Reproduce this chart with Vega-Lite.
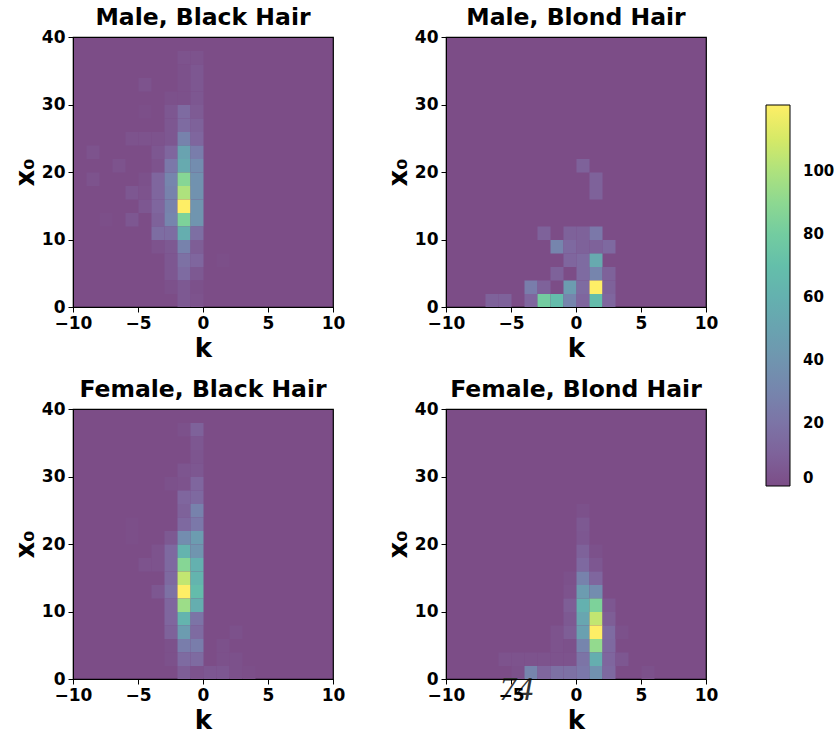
{
  "$schema": "https://vega.github.io/schema/vega-lite/v6.json",
  "background": "white",
  "padding": {"left": 11, "top": 4, "right": 5, "bottom": 5},
  "spacing": 14,
  "config": {
    "font": "DejaVu Sans",
    "view": {"stroke": "black", "strokeWidth": 1.2, "fill": "#7c4d87"},
    "axis": {
      "labelFont": "DejaVu Sans", "labelFontWeight": "bold", "labelFontSize": 17, "labelColor": "black",
      "titleFont": "DejaVu Sans", "titleFontWeight": "bold", "titleFontSize": 26, "titleColor": "black",
      "domainColor": "black", "tickColor": "black", "tickSize": 5, "grid": false, "labelPadding": 3, "labelFlush": false, "labelOverlap": false
    },
    "axisX": {"titlePadding": 4},
    "axisY": {"titlePadding": 3},
    "title": {"font": "DejaVu Sans", "fontSize": 23.5, "fontWeight": "bold", "color": "black", "offset": -1}
  },
  "data": {"values": [
    {"panel":"MBk","k":-1.5,"x0":37,"n":3},{"panel":"MBk","k":-0.5,"x0":37,"n":3},
    {"panel":"MBk","k":-1.5,"x0":35,"n":2},{"panel":"MBk","k":-0.5,"x0":35,"n":5},
    {"panel":"MBk","k":-4.5,"x0":33,"n":3},{"panel":"MBk","k":-1.5,"x0":33,"n":2},{"panel":"MBk","k":-0.5,"x0":33,"n":5},
    {"panel":"MBk","k":-2.5,"x0":31,"n":2},{"panel":"MBk","k":-1.5,"x0":31,"n":2},{"panel":"MBk","k":-0.5,"x0":31,"n":5},
    {"panel":"MBk","k":-4.5,"x0":29,"n":1},{"panel":"MBk","k":-2.5,"x0":29,"n":5},{"panel":"MBk","k":-1.5,"x0":29,"n":15},{"panel":"MBk","k":-0.5,"x0":29,"n":7},
    {"panel":"MBk","k":-2.5,"x0":27,"n":5},{"panel":"MBk","k":-1.5,"x0":27,"n":15},{"panel":"MBk","k":-0.5,"x0":27,"n":10},
    {"panel":"MBk","k":-5.5,"x0":25,"n":3},{"panel":"MBk","k":-4.5,"x0":25,"n":3},{"panel":"MBk","k":-3.5,"x0":25,"n":3},{"panel":"MBk","k":-2.5,"x0":25,"n":5},{"panel":"MBk","k":-1.5,"x0":25,"n":28},{"panel":"MBk","k":-0.5,"x0":25,"n":12},
    {"panel":"MBk","k":-8.5,"x0":23,"n":3},{"panel":"MBk","k":-3.5,"x0":23,"n":5},{"panel":"MBk","k":-2.5,"x0":23,"n":12},{"panel":"MBk","k":-1.5,"x0":23,"n":50},{"panel":"MBk","k":-0.5,"x0":23,"n":25},
    {"panel":"MBk","k":-6.5,"x0":21,"n":3},{"panel":"MBk","k":-3.5,"x0":21,"n":3},{"panel":"MBk","k":-2.5,"x0":21,"n":22},{"panel":"MBk","k":-1.5,"x0":21,"n":55},{"panel":"MBk","k":-0.5,"x0":21,"n":35},
    {"panel":"MBk","k":-8.5,"x0":19,"n":3},{"panel":"MBk","k":-4.5,"x0":19,"n":2},{"panel":"MBk","k":-3.5,"x0":19,"n":12},{"panel":"MBk","k":-2.5,"x0":19,"n":30},{"panel":"MBk","k":-1.5,"x0":19,"n":88},{"panel":"MBk","k":-0.5,"x0":19,"n":38},
    {"panel":"MBk","k":-5.5,"x0":17,"n":5},{"panel":"MBk","k":-4.5,"x0":17,"n":3},{"panel":"MBk","k":-3.5,"x0":17,"n":12},{"panel":"MBk","k":-2.5,"x0":17,"n":28},{"panel":"MBk","k":-1.5,"x0":17,"n":100},{"panel":"MBk","k":-0.5,"x0":17,"n":38},
    {"panel":"MBk","k":-4.5,"x0":15,"n":5},{"panel":"MBk","k":-3.5,"x0":15,"n":12},{"panel":"MBk","k":-2.5,"x0":15,"n":28},{"panel":"MBk","k":-1.5,"x0":15,"n":121},{"panel":"MBk","k":-0.5,"x0":15,"n":40},
    {"panel":"MBk","k":-7.5,"x0":13,"n":1},{"panel":"MBk","k":-5.5,"x0":13,"n":5},{"panel":"MBk","k":-3.5,"x0":13,"n":10},{"panel":"MBk","k":-2.5,"x0":13,"n":30},{"panel":"MBk","k":-1.5,"x0":13,"n":85},{"panel":"MBk","k":-0.5,"x0":13,"n":40},
    {"panel":"MBk","k":-3.5,"x0":11,"n":16},{"panel":"MBk","k":-2.5,"x0":11,"n":16},{"panel":"MBk","k":-1.5,"x0":11,"n":58},{"panel":"MBk","k":-0.5,"x0":11,"n":17},
    {"panel":"MBk","k":-3.5,"x0":9,"n":3},{"panel":"MBk","k":-2.5,"x0":9,"n":6},{"panel":"MBk","k":-1.5,"x0":9,"n":28},{"panel":"MBk","k":-0.5,"x0":9,"n":8},
    {"panel":"MBk","k":-2.5,"x0":7,"n":5},{"panel":"MBk","k":-1.5,"x0":7,"n":18},{"panel":"MBk","k":-0.5,"x0":7,"n":12},{"panel":"MBk","k":1.5,"x0":7,"n":1},
    {"panel":"MBk","k":-2.5,"x0":5,"n":5},{"panel":"MBk","k":-1.5,"x0":5,"n":15},{"panel":"MBk","k":-0.5,"x0":5,"n":6},
    {"panel":"MBk","k":-2.5,"x0":3,"n":2},{"panel":"MBk","k":-1.5,"x0":3,"n":6},{"panel":"MBk","k":-0.5,"x0":3,"n":2},
    {"panel":"MBk","k":-1.5,"x0":1,"n":6},{"panel":"MBk","k":-0.5,"x0":1,"n":3},

    {"panel":"MBl","k":0.5,"x0":21,"n":10},
    {"panel":"MBl","k":1.5,"x0":19,"n":10},
    {"panel":"MBl","k":1.5,"x0":17,"n":10},
    {"panel":"MBl","k":-2.5,"x0":11,"n":10},{"panel":"MBl","k":-0.5,"x0":11,"n":10},{"panel":"MBl","k":0.5,"x0":11,"n":10},{"panel":"MBl","k":1.5,"x0":11,"n":22},
    {"panel":"MBl","k":-1.5,"x0":9,"n":30},{"panel":"MBl","k":-0.5,"x0":9,"n":14},{"panel":"MBl","k":0.5,"x0":9,"n":10},{"panel":"MBl","k":1.5,"x0":9,"n":10},{"panel":"MBl","k":2.5,"x0":9,"n":14},
    {"panel":"MBl","k":-0.5,"x0":7,"n":12},{"panel":"MBl","k":0.5,"x0":7,"n":15},{"panel":"MBl","k":1.5,"x0":7,"n":55},
    {"panel":"MBl","k":-1.5,"x0":5,"n":10},{"panel":"MBl","k":0.5,"x0":5,"n":15},{"panel":"MBl","k":1.5,"x0":5,"n":30},{"panel":"MBl","k":2.5,"x0":5,"n":10},
    {"panel":"MBl","k":-3.5,"x0":3,"n":25},{"panel":"MBl","k":-2.5,"x0":3,"n":10},{"panel":"MBl","k":-0.5,"x0":3,"n":45},{"panel":"MBl","k":0.5,"x0":3,"n":15},{"panel":"MBl","k":1.5,"x0":3,"n":121},{"panel":"MBl","k":2.5,"x0":3,"n":10},
    {"panel":"MBl","k":-6.5,"x0":1,"n":10},{"panel":"MBl","k":-5.5,"x0":1,"n":10},{"panel":"MBl","k":-3.5,"x0":1,"n":12},{"panel":"MBl","k":-2.5,"x0":1,"n":80},{"panel":"MBl","k":-1.5,"x0":1,"n":68},{"panel":"MBl","k":-0.5,"x0":1,"n":30},{"panel":"MBl","k":0.5,"x0":1,"n":12},{"panel":"MBl","k":1.5,"x0":1,"n":68},{"panel":"MBl","k":2.5,"x0":1,"n":12},

    {"panel":"FBk","k":-1.5,"x0":37,"n":2},{"panel":"FBk","k":-0.5,"x0":37,"n":10},
    {"panel":"FBk","k":-0.5,"x0":35,"n":5},
    {"panel":"FBk","k":-0.5,"x0":33,"n":4},
    {"panel":"FBk","k":-1.5,"x0":31,"n":4},{"panel":"FBk","k":-0.5,"x0":31,"n":5},
    {"panel":"FBk","k":-2.5,"x0":29,"n":2},{"panel":"FBk","k":-1.5,"x0":29,"n":3},{"panel":"FBk","k":-0.5,"x0":29,"n":12},
    {"panel":"FBk","k":-1.5,"x0":27,"n":12},{"panel":"FBk","k":-0.5,"x0":27,"n":14},
    {"panel":"FBk","k":-1.5,"x0":25,"n":10},{"panel":"FBk","k":-0.5,"x0":25,"n":28},
    {"panel":"FBk","k":-5.5,"x0":23,"n":1},{"panel":"FBk","k":-1.5,"x0":23,"n":14},{"panel":"FBk","k":-0.5,"x0":23,"n":22},
    {"panel":"FBk","k":-5.5,"x0":21,"n":1},{"panel":"FBk","k":-2.5,"x0":21,"n":6},{"panel":"FBk","k":-1.5,"x0":21,"n":35},{"panel":"FBk","k":-0.5,"x0":21,"n":45},
    {"panel":"FBk","k":-3.5,"x0":19,"n":3},{"panel":"FBk","k":-2.5,"x0":19,"n":14},{"panel":"FBk","k":-1.5,"x0":19,"n":62},{"panel":"FBk","k":-0.5,"x0":19,"n":40},
    {"panel":"FBk","k":-4.5,"x0":17,"n":3},{"panel":"FBk","k":-3.5,"x0":17,"n":3},{"panel":"FBk","k":-2.5,"x0":17,"n":14},{"panel":"FBk","k":-1.5,"x0":17,"n":88},{"panel":"FBk","k":-0.5,"x0":17,"n":60},
    {"panel":"FBk","k":-2.5,"x0":15,"n":14},{"panel":"FBk","k":-1.5,"x0":15,"n":105},{"panel":"FBk","k":-0.5,"x0":15,"n":62},
    {"panel":"FBk","k":-3.5,"x0":13,"n":5},{"panel":"FBk","k":-2.5,"x0":13,"n":18},{"panel":"FBk","k":-1.5,"x0":13,"n":121},{"panel":"FBk","k":-0.5,"x0":13,"n":68},
    {"panel":"FBk","k":-2.5,"x0":11,"n":12},{"panel":"FBk","k":-1.5,"x0":11,"n":95},{"panel":"FBk","k":-0.5,"x0":11,"n":58},
    {"panel":"FBk","k":-2.5,"x0":9,"n":12},{"panel":"FBk","k":-1.5,"x0":9,"n":62},{"panel":"FBk","k":-0.5,"x0":9,"n":20},
    {"panel":"FBk","k":-2.5,"x0":7,"n":10},{"panel":"FBk","k":-1.5,"x0":7,"n":45},{"panel":"FBk","k":-0.5,"x0":7,"n":15},{"panel":"FBk","k":2.5,"x0":7,"n":2},
    {"panel":"FBk","k":-2.5,"x0":5,"n":2},{"panel":"FBk","k":-1.5,"x0":5,"n":25},{"panel":"FBk","k":-0.5,"x0":5,"n":25},{"panel":"FBk","k":1.5,"x0":5,"n":2},
    {"panel":"FBk","k":-2.5,"x0":3,"n":2},{"panel":"FBk","k":-1.5,"x0":3,"n":15},{"panel":"FBk","k":-0.5,"x0":3,"n":15},{"panel":"FBk","k":1.5,"x0":3,"n":2},{"panel":"FBk","k":2.5,"x0":3,"n":2},
    {"panel":"FBk","k":-1.5,"x0":1,"n":8},{"panel":"FBk","k":-0.5,"x0":1,"n":3},{"panel":"FBk","k":0.5,"x0":1,"n":5},{"panel":"FBk","k":1.5,"x0":1,"n":5},{"panel":"FBk","k":2.5,"x0":1,"n":2},{"panel":"FBk","k":3.5,"x0":1,"n":1},

    {"panel":"FBl","k":0.5,"x0":25,"n":2},
    {"panel":"FBl","k":0.5,"x0":23,"n":6},
    {"panel":"FBl","k":0.5,"x0":21,"n":5},
    {"panel":"FBl","k":0.5,"x0":19,"n":10},{"panel":"FBl","k":1.5,"x0":19,"n":2},
    {"panel":"FBl","k":0.5,"x0":17,"n":14},{"panel":"FBl","k":1.5,"x0":17,"n":5},
    {"panel":"FBl","k":-0.5,"x0":15,"n":2},{"panel":"FBl","k":0.5,"x0":15,"n":28},{"panel":"FBl","k":1.5,"x0":15,"n":12},
    {"panel":"FBl","k":-0.5,"x0":13,"n":3},{"panel":"FBl","k":0.5,"x0":13,"n":45},{"panel":"FBl","k":1.5,"x0":13,"n":35},
    {"panel":"FBl","k":-0.5,"x0":11,"n":8},{"panel":"FBl","k":0.5,"x0":11,"n":60},{"panel":"FBl","k":1.5,"x0":11,"n":85},{"panel":"FBl","k":2.5,"x0":11,"n":5},
    {"panel":"FBl","k":-0.5,"x0":9,"n":6},{"panel":"FBl","k":0.5,"x0":9,"n":52},{"panel":"FBl","k":1.5,"x0":9,"n":105},{"panel":"FBl","k":2.5,"x0":9,"n":8},
    {"panel":"FBl","k":-1.5,"x0":7,"n":3},{"panel":"FBl","k":-0.5,"x0":7,"n":8},{"panel":"FBl","k":0.5,"x0":7,"n":48},{"panel":"FBl","k":1.5,"x0":7,"n":121},{"panel":"FBl","k":2.5,"x0":7,"n":15},{"panel":"FBl","k":3.5,"x0":7,"n":2},
    {"panel":"FBl","k":-1.5,"x0":5,"n":3},{"panel":"FBl","k":-0.5,"x0":5,"n":2},{"panel":"FBl","k":0.5,"x0":5,"n":30},{"panel":"FBl","k":1.5,"x0":5,"n":92},{"panel":"FBl","k":2.5,"x0":5,"n":14},
    {"panel":"FBl","k":-5.5,"x0":3,"n":3},{"panel":"FBl","k":-4.5,"x0":3,"n":3},{"panel":"FBl","k":-3.5,"x0":3,"n":3},{"panel":"FBl","k":-2.5,"x0":3,"n":3},{"panel":"FBl","k":-1.5,"x0":3,"n":3},{"panel":"FBl","k":-0.5,"x0":3,"n":3},{"panel":"FBl","k":0.5,"x0":3,"n":20},{"panel":"FBl","k":1.5,"x0":3,"n":58},{"panel":"FBl","k":2.5,"x0":3,"n":12},{"panel":"FBl","k":3.5,"x0":3,"n":5},
    {"panel":"FBl","k":-4.5,"x0":1,"n":2},{"panel":"FBl","k":-3.5,"x0":1,"n":30},{"panel":"FBl","k":-2.5,"x0":1,"n":12},{"panel":"FBl","k":-1.5,"x0":1,"n":18},{"panel":"FBl","k":-0.5,"x0":1,"n":18},{"panel":"FBl","k":0.5,"x0":1,"n":22},{"panel":"FBl","k":1.5,"x0":1,"n":38},{"panel":"FBl","k":2.5,"x0":1,"n":14},{"panel":"FBl","k":5.5,"x0":1,"n":2}
  ]},
  "vconcat": [
    {"spacing": 38, "hconcat": [
      {
        "title": "Male, Black Hair", "width": 260, "height": 270,
        "transform": [{"filter": "datum.panel === 'MBk'"}],
        "mark": "rect",
        "encoding": {
          "x": {"field": "k", "type": "quantitative", "bin": {"extent": [-10, 10], "step": 1}, "scale": {"domain": [-10, 10], "nice": false}, "axis": {"title": "k", "values": [-10, -5, 0, 5, 10], "format": "d"}},
          "y": {"field": "x0", "type": "quantitative", "bin": {"extent": [0, 40], "step": 2}, "scale": {"domain": [0, 40], "nice": false}, "axis": {"title": "x₀", "values": [0, 10, 20, 30, 40], "format": "d"}},
          "color": {"aggregate": "sum", "field": "n", "type": "quantitative",
            "scale": {"domain": [0, 121], "interpolate": "rgb", "range": ["#7c4d87", "#7f669e", "#7a7cab", "#728faf", "#6aa1b0", "#64b2af", "#64c2a9", "#7cd29b", "#a2df85", "#d1e967", "#feee66"]},
            "legend": {"orient": "none", "legendX": 693, "legendY": 68, "title": null, "direction": "vertical", "gradientLength": 381, "gradientThickness": 24, "values": [0, 20, 40, 60, 80, 100], "labelFontSize": 15, "labelFontWeight": "bold", "labelColor": "black", "labelFont": "DejaVu Sans", "gradientStrokeColor": "black", "gradientStrokeWidth": 1, "labelOffset": 13}}
        }
      },
      {
        "title": "Male, Blond Hair", "width": 260, "height": 270,
        "transform": [{"filter": "datum.panel === 'MBl'"}],
        "mark": "rect",
        "encoding": {
          "x": {"field": "k", "type": "quantitative", "bin": {"extent": [-10, 10], "step": 1}, "scale": {"domain": [-10, 10], "nice": false}, "axis": {"title": "k", "values": [-10, -5, 0, 5, 10], "format": "d"}},
          "y": {"field": "x0", "type": "quantitative", "bin": {"extent": [0, 40], "step": 2}, "scale": {"domain": [0, 40], "nice": false}, "axis": {"title": "x₀", "values": [0, 10, 20, 30, 40], "format": "d"}},
          "color": {"aggregate": "sum", "field": "n", "type": "quantitative"}
        }
      }
    ]},
    {"spacing": 38, "hconcat": [
      {
        "title": "Female, Black Hair", "width": 260, "height": 270,
        "transform": [{"filter": "datum.panel === 'FBk'"}],
        "mark": "rect",
        "encoding": {
          "x": {"field": "k", "type": "quantitative", "bin": {"extent": [-10, 10], "step": 1}, "scale": {"domain": [-10, 10], "nice": false}, "axis": {"title": "k", "values": [-10, -5, 0, 5, 10], "format": "d"}},
          "y": {"field": "x0", "type": "quantitative", "bin": {"extent": [0, 40], "step": 2}, "scale": {"domain": [0, 40], "nice": false}, "axis": {"title": "x₀", "values": [0, 10, 20, 30, 40], "format": "d"}},
          "color": {"aggregate": "sum", "field": "n", "type": "quantitative"}
        }
      },
      {
        "title": "Female, Blond Hair", "width": 260, "height": 270,
        "layer": [
          {
            "transform": [{"filter": "datum.panel === 'FBl'"}],
            "mark": "rect",
            "encoding": {
              "x": {"field": "k", "type": "quantitative", "bin": {"extent": [-10, 10], "step": 1}, "scale": {"domain": [-10, 10], "nice": false}, "axis": {"title": "k", "values": [-10, -5, 0, 5, 10], "format": "d"}},
              "y": {"field": "x0", "type": "quantitative", "bin": {"extent": [0, 40], "step": 2}, "scale": {"domain": [0, 40], "nice": false}, "axis": {"title": "x₀", "values": [0, 10, 20, 30, 40], "format": "d"}},
              "color": {"aggregate": "sum", "field": "n", "type": "quantitative"}
            }
          },
          {
            "data": {"values": [{"label": "74"}]},
            "mark": {"type": "text", "font": "Liberation Serif", "fontSize": 34, "fontStyle": "italic", "color": "#333333", "baseline": "alphabetic", "align": "center"},
            "encoding": {
              "text": {"field": "label", "type": "nominal"},
              "x": {"datum": -4.6},
              "y": {"datum": -3.1}
            }
          }
        ]
      }
    ]}
  ]
}
